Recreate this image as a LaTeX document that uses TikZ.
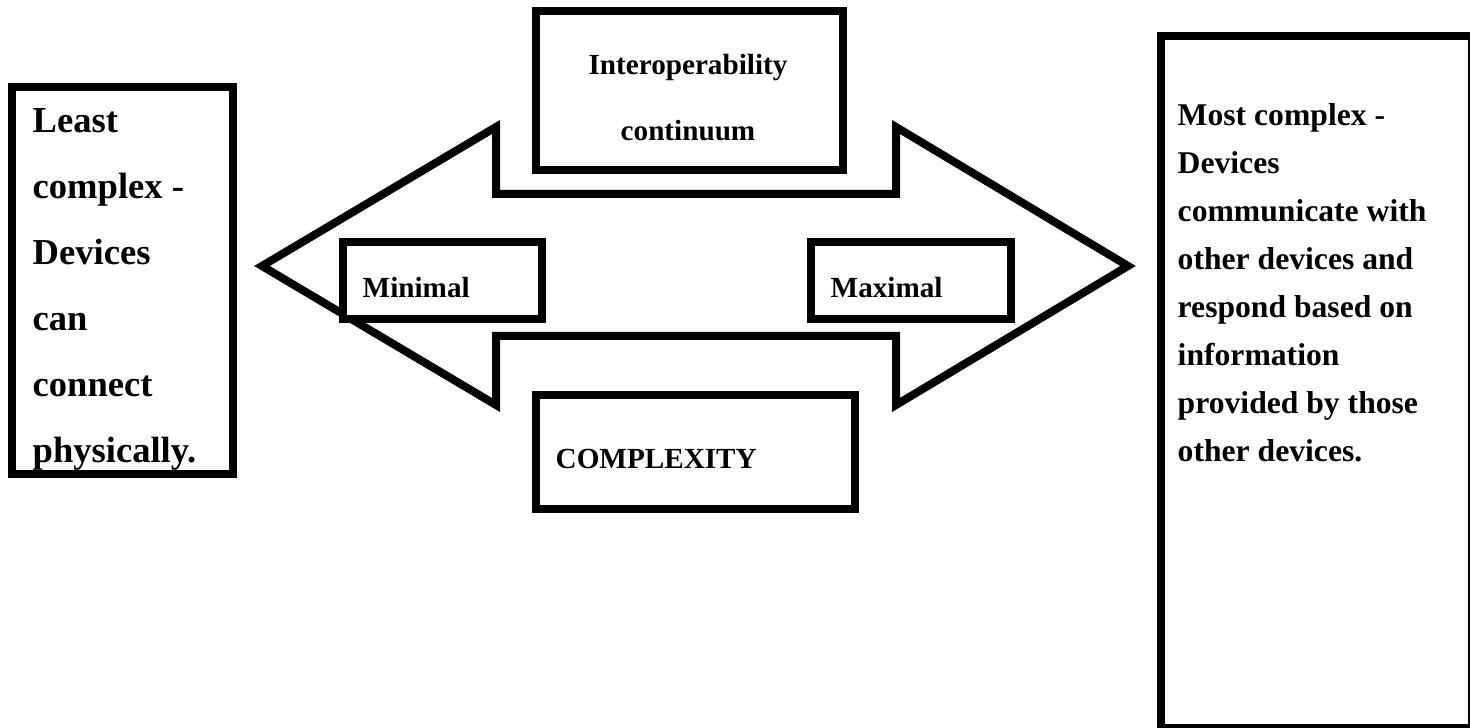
\documentclass[tikz,border=0pt]{standalone}
\usepackage{fontspec}
\setmainfont{Liberation Serif}
\usetikzlibrary{positioning}

\begin{document}
\begin{tikzpicture}[
    x=0.01cm, y=-0.01cm,
    frameBox/.style={
        rectangle, draw=black, line width=0.08cm,
        fill=white, inner sep=0pt
    },
    arrowFrame/.style={
        draw=black, line width=0.08cm, line join=miter
    },
    bigText/.style={
        font=\fontsize{10.4}{18.78}\selectfont\bfseries,
        inner sep=0pt, align=left, anchor=north west
    },
    sideText/.style={
        font=\fontsize{9}{13.66}\selectfont\bfseries,
        inner sep=0pt, align=left, anchor=north west
    },
    smallText/.style={
        font=\fontsize{8.3}{18.78}\selectfont\bfseries,
        inner sep=0pt
    }
]

    % Canvas
    \clip (0,0) rectangle (1470,728);

    % Double arrow
    \draw[arrowFrame] (262,266) -- (496,127) -- (496,194) -- (896,194)
        -- (896,127) -- (1128,266) -- (896,405) -- (896,336)
        -- (496,336) -- (496,405) -- cycle;

    % Boxes
    \node[frameBox, minimum width=2.21cm, minimum height=3.87cm] (leastBox) at (122.5,280.5) {};
    \node[frameBox, minimum width=3.11cm, minimum height=6.92cm] (mostBox) at (1316.5,382) {};
    \node[frameBox, minimum width=3.07cm, minimum height=1.59cm] (interBox) at (689.5,90.5) {};
    \node[frameBox, minimum width=1.99cm, minimum height=0.77cm] (minBox) at (442.5,280.5) {};
    \node[frameBox, minimum width=2.00cm, minimum height=0.77cm] (maxBox) at (911,280.5) {};
    \node[frameBox, minimum width=3.19cm, minimum height=1.14cm] (cplxBox) at (695.5,452) {};

    % Texts
    \node[bigText] (leastText) at (32,108) {Least\\complex -\\Devices\\can\\connect\\physically.};
    \node[sideText] (mostText) at (1177,103) {Most complex -\\Devices\\communicate with\\other devices and\\respond based on\\information\\provided by those\\other devices.};
    \node[smallText, align=center, anchor=north] (interText) at (688,54) {Interoperability\\continuum};
    \node[smallText, anchor=base west] (minText) at (362,298) {Minimal};
    \node[smallText, anchor=base west] (maxText) at (830,298) {Maximal};
    \node[smallText, anchor=base west] (cplxText) at (555,469) {COMPLEXITY};

\end{tikzpicture}
\end{document}
